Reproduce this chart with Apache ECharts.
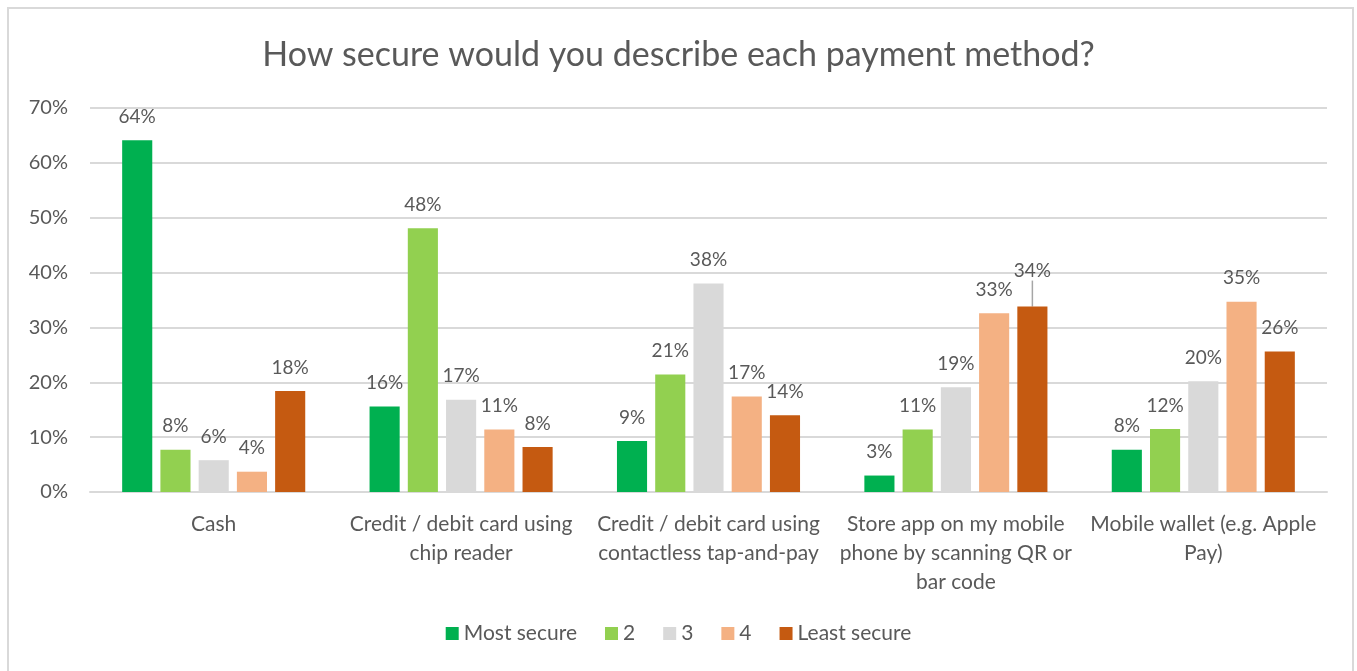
<!DOCTYPE html>
<html>
<head>
<meta charset="utf-8">
<script src="https://cdn.jsdelivr.net/npm/echarts@6/dist/echarts.min.js"></script>
<style>
  html, body { margin: 0; padding: 0; background: #fff; overflow: hidden; }
  #frame { position: absolute; left: 7px; top: 7px; width: 1347px; height: 680px; border: 2px solid #d9d9d9; box-sizing: border-box; }
  #chart { position: absolute; left: 0; top: 0; width: 1357px; height: 671px; }
</style>
</head>
<body>
<div id="frame"></div>
<div id="chart"></div>
<script>
// categorías y valores (%)
const categories = [
  'Cash',
  'Credit / debit card using\nchip reader',
  'Credit / debit card using\ncontactless tap-and-pay',
  'Store app on my mobile\nphone by scanning QR or\nbar code',
  'Mobile wallet (e.g. Apple\nPay)'
];
const seriesNames = ['Most secure', '2', '3', '4', 'Least secure'];
const mostSecure  = [64.1, 15.6, 9.3, 3.0, 7.7];
const level2      = [7.7, 48.1, 21.4, 11.4, 11.5];
const level3      = [5.8, 16.8, 38.0, 19.1, 20.2];
const level4      = [3.7, 11.4, 17.4, 32.6, 34.7];
const leastSecure = [18.4, 8.2, 14.0, 33.8, 25.6];
const yTicks = [0, 10, 20, 30, 40, 50, 60, 70];

const colors = ['#00b050', '#92d050', '#d9d9d9', '#f4b183', '#c55a11'];
const values = [mostSecure, level2, level3, level4, leastSecure];
const font = 'Lato, "Open Sans", sans-serif';

const chart = echarts.init(document.getElementById('chart'));

// la etiqueta de "Least secure / Store app" va desplazada con línea guía
const isMoved = (si, di) => si === 4 && di === 3;

const series = values.map((vals, i) => ({
  name: seriesNames[i],
  type: 'bar',
  data: vals.map((v, j) => isMoved(i, j)
    ? { value: v, labelLine: { show: true, lineStyle: { color: '#a6a6a6', width: 1.5 } } }
    : v),
  barGap: '27%',
  barCategoryGap: '26%',
  itemStyle: { color: colors[i] },
  label: {
    show: true,
    position: 'top',
    distance: 14,
    color: '#595959',
    fontFamily: font,
    fontSize: 19,
    formatter: p => Math.round(p.value) + '%'
  },
  labelLine: { show: false },
  labelLayout: p => isMoved(i, p.dataIndex) ? { dy: -12 } : {}
}));

chart.setOption({
  animation: false,
  title: {
    text: 'How secure would you describe each payment method?',
    left: 'center',
    top: 33,
    textStyle: { color: '#595959', fontFamily: font, fontSize: 34, fontWeight: 'normal' }
  },
  legend: {
    bottom: 22,
    left: 'center',
    itemWidth: 13,
    itemHeight: 13,
    itemGap: 28,
    icon: 'rect',
    textStyle: { color: '#595959', fontFamily: font, fontSize: 21 },
    data: seriesNames
  },
  grid: { left: 90, right: 30, top: 108, bottom: 179 },
  xAxis: {
    type: 'category',
    data: categories,
    axisLine: { lineStyle: { color: '#d9d9d9', width: 2 } },
    axisTick: { show: false },
    axisLabel: { color: '#595959', fontFamily: font, fontSize: 21, lineHeight: 29, margin: 18, interval: 0 }
  },
  yAxis: {
    type: 'value',
    min: yTicks[0],
    max: yTicks[yTicks.length - 1],
    interval: 10,
    axisLine: { show: false },
    axisTick: { show: false },
    splitLine: { lineStyle: { color: '#d9d9d9', width: 2 } },
    axisLabel: { color: '#595959', fontFamily: font, fontSize: 20, margin: 22, formatter: v => v + '%' }
  },
  series: series
});
</script>
</body>
</html>
